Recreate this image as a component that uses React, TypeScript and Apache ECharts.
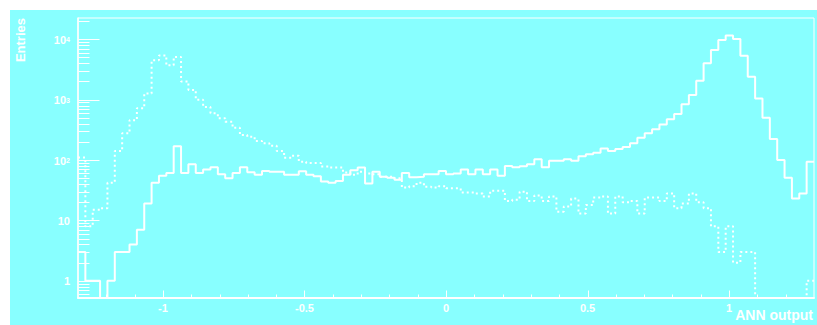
import React, { useEffect, useRef } from "react";
import * as echarts from "echarts";

// Histogram binning (100 bins from -1.3 to 1.3)
const binLow = -1.3;
const binWidth = 0.026;

// Solid histogram (signal-like), entries per bin
const solidCounts = [
  3, 1, 1, 0, 1, 3, 3, 4, 7, 19,
  42, 55, 61, 170, 61, 85, 61, 70, 76, 58,
  50, 61, 76, 63, 57, 66, 64, 64, 57, 57,
  65, 57, 54, 44, 42, 45, 57, 68, 75, 41,
  64, 53, 51, 47, 61, 52, 53, 58, 58, 66,
  58, 60, 70, 58, 70, 58, 70, 55, 80, 76,
  79, 85, 103, 76, 97, 97, 103, 97, 116, 125,
  132, 156, 141, 152, 164, 190, 234, 277, 325, 388,
  475, 577, 836, 1195, 2050, 3990, 6650, 9700, 11500, 10100,
  5330, 2400, 1050, 500, 224, 100, 51, 23, 28, 94,
];

// Dotted histogram (background-like), entries per bin
const dottedCounts = [
  110, 8, 15, 16, 42, 141, 277, 458, 723, 1262,
  4500, 5400, 3700, 5100, 2000, 1450, 1000, 755, 593, 492,
  430, 343, 259, 243, 206, 189, 172, 141, 109, 118,
  94, 89, 89, 78, 75, 75, 62, 57, 64, 60,
  58, 53, 53, 50, 35, 37, 42, 36, 35, 37,
  34, 34, 29, 29, 28, 25, 31, 31, 21, 22,
  30, 21, 26, 21, 25, 14, 17, 23, 13, 18,
  24, 25, 13, 25, 20, 21, 13, 24, 24, 21,
  28, 16, 19, 28, 20, 16, 8, 3, 8, 2,
  3, 3, 0, 0, 0, 0, 0, 0, 0, 1,
];

// Axis ranges and labels
const xMin = -1.3;
const xMax = 1.3;
const yMin = 0.52;
const yMax = 22500;
const xLabelValues = [-1, -0.5, 0, 0.5, 1];
const xLabelTexts = ["-1", "-0.5", "0", "0.5", "1"];
const yTitle = "Entries";
const xTitle = "ANN output";

const FONT = "'Liberation Sans', Arial, Helvetica, sans-serif";
const WHITE = "#ffffff";
const BG = "#88ffff";

function histPoints(vals: number[]) {
  const pts: number[][] = vals.map((v, i) => [
    +(binLow + i * binWidth).toFixed(4),
    v > 0 ? v : yMin,
  ]);
  const last = vals[vals.length - 1];
  pts.push([+(binLow + vals.length * binWidth).toFixed(4), last > 0 ? last : yMin]);
  return pts;
}

type TickDef = { axis: "x" | "y"; v: number; len: number };
function buildTicks(): TickDef[] {
  const t: TickDef[] = [];
  for (let n = -1; n <= 4; n++) {
    for (let k = 1; k <= 9; k++) {
      const v = k * Math.pow(10, n);
      if (v >= yMin && v <= yMax) t.push({ axis: "y", v, len: k === 1 ? 21 : 11 });
    }
  }
  for (let i = -12; i <= 12; i++) {
    t.push({ axis: "x", v: i / 10, len: i % 5 === 0 ? 8 : 4 });
  }
  return t;
}

export default function App() {
  const ref = useRef<HTMLDivElement>(null);

  useEffect(() => {
    if (!ref.current) return;
    const chart = echarts.init(ref.current, undefined, { renderer: "svg" });
    const ticks = buildTicks();

    const option: any = {
      animation: false,
      backgroundColor: BG,
      grid: {
        left: 68,
        top: 8,
        right: 2,
        bottom: 27,
        show: true,
        borderColor: WHITE,
        borderWidth: 1,
        backgroundColor: "transparent",
      },
      xAxis: {
        type: "value",
        min: xMin,
        max: xMax,
        interval: 0.1,
        axisLine: { show: true, onZero: false, lineStyle: { color: WHITE, width: 2 } },
        axisTick: { show: false },
        splitLine: { show: false },
        axisLabel: {
          interval: 0,
          hideOverlap: false,
          margin: 4,
          color: WHITE,
          fontFamily: FONT,
          fontWeight: "bold",
          fontSize: 11,
          formatter: (v: number) => {
            const idx = xLabelValues.findIndex((x) => Math.abs(x - v) < 1e-6);
            return idx >= 0 ? xLabelTexts[idx] : "";
          },
        },
      },
      yAxis: {
        type: "log",
        logBase: 10,
        min: yMin,
        max: yMax,
        axisLine: { show: true, onZero: false, lineStyle: { color: WHITE, width: 1.5 } },
        axisTick: { show: false },
        splitLine: { show: false },
        minorTick: { show: false },
        axisLabel: {
          margin: 8,
          color: WHITE,
          showMinLabel: true,
          showMaxLabel: true,
          formatter: (v: number) => {
            const e = Math.log10(v);
            const r = Math.round(e);
            if (Math.abs(e - r) > 1e-6) return "";
            if (r === 0) return "{b|1}";
            if (r === 1) return "{b|10}";
            return "{b|10}{s|" + r + "}";
          },
          rich: {
            b: {
              fontFamily: FONT,
              fontWeight: "bold",
              fontSize: 11,
              color: WHITE,
              lineHeight: 12,
              verticalAlign: "bottom",
            },
            s: {
              fontFamily: FONT,
              fontWeight: "bold",
              fontSize: 7,
              color: WHITE,
              lineHeight: 8,
              padding: [3, 0, 5, 0],
              verticalAlign: "top",
            },
          },
        },
      },
      series: [
        {
          name: "solid",
          type: "line",
          step: "end",
          symbol: "none",
          showSymbol: false,
          data: histPoints(solidCounts),
          lineStyle: { color: WHITE, width: 2 },
          z: 3,
        },
        {
          name: "dotted",
          type: "line",
          step: "end",
          symbol: "none",
          showSymbol: false,
          data: histPoints(dottedCounts),
          lineStyle: { color: WHITE, width: 2, type: [2, 3], cap: "butt" },
          z: 3,
        },
        {
          name: "ticks",
          type: "custom",
          silent: true,
          z: 4,
          clip: false,
          encode: { x: 0, y: 1 },
          data: ticks.map((t) => (t.axis === "y" ? [xMin, t.v] : [t.v, yMin])),
          renderItem: (params: any, api: any) => {
            const t = ticks[params.dataIndex];
            const p = api.coord([api.value(0), api.value(1)]);
            const x = Math.round(p[0]) + 0.5;
            const y = Math.round(p[1]) + 0.5;
            const shape =
              t.axis === "y"
                ? { x1: x, y1: y, x2: x + t.len, y2: y }
                : { x1: x, y1: y, x2: x, y2: y - t.len };
            return {
              type: "line",
              shape,
              style: { stroke: WHITE, lineWidth: 1 },
            };
          },
        },
      ],
      graphic: [
        {
          type: "text",
          x: 10,
          y: 8,
          rotation: Math.PI / 2,
          style: {
            text: yTitle,
            fill: WHITE,
            font: `bold 13px ${FONT}`,
            textAlign: "right",
            textVerticalAlign: "middle",
          },
        },
        {
          type: "text",
          x: 803,
          y: 298,
          style: {
            text: xTitle,
            fill: WHITE,
            font: `bold 14px ${FONT}`,
            textAlign: "right",
            textVerticalAlign: "top",
          },
        },
      ],
    };

    chart.setOption(option);
    return () => chart.dispose();
  }, []);

  return (
    <div
      style={{
        position: "absolute",
        left: 0,
        top: 0,
        width: 817,
        height: 325,
        background: "#ffffff",
        overflow: "hidden",
      }}
    >
      <div
        ref={ref}
        style={{ position: "absolute", left: 10, top: 10, width: 807, height: 315 }}
      />
    </div>
  );
}
